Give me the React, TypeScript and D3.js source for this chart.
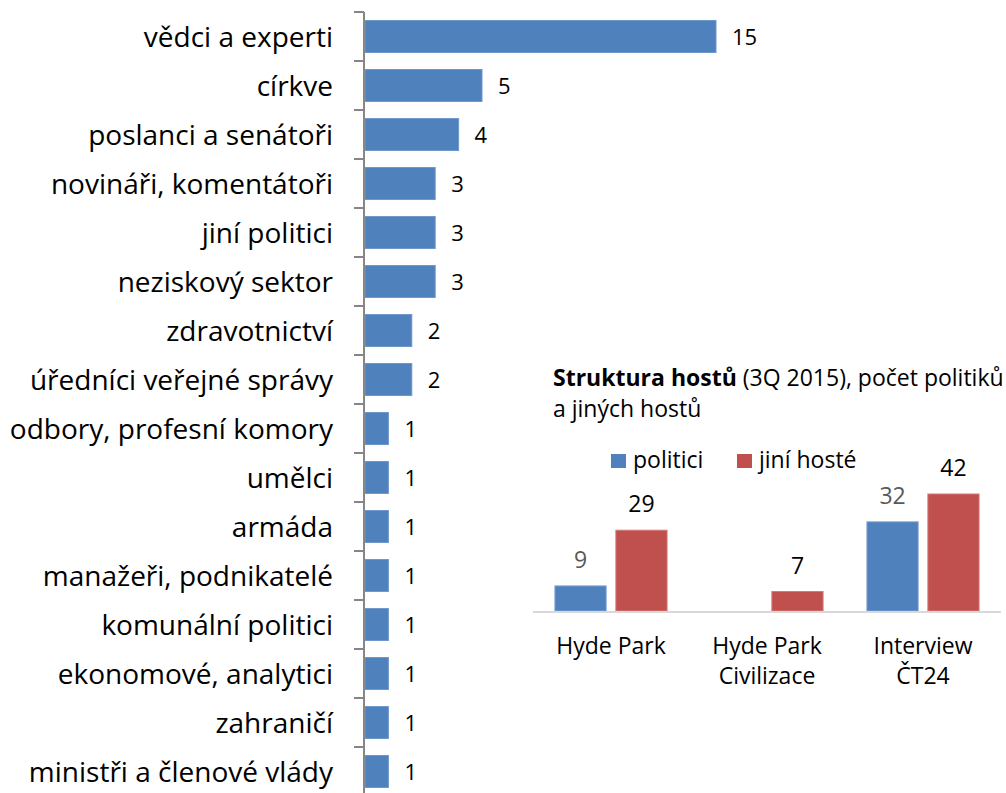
import React from "react";
import * as d3 from "d3";

const categories = [
  "vědci a experti",
  "církve",
  "poslanci a senátoři",
  "novináři, komentátoři",
  "jiní politici",
  "neziskový sektor",
  "zdravotnictví",
  "úředníci veřejné správy",
  "odbory, profesní komory",
  "umělci",
  "armáda",
  "manažeři, podnikatelé",
  "komunální politici",
  "ekonomové, analytici",
  "zahraničí",
  "ministři a členové vlády",
];
const counts = [15, 5, 4, 3, 3, 3, 2, 2, 1, 1, 1, 1, 1, 1, 1, 1];

const shows = [["Hyde Park"], ["Hyde Park", "Civilizace"], ["Interview", "ČT24"]];
const showKeys = ["Hyde Park", "Hyde Park Civilizace", "Interview ČT24"];
const seriesNames = ["politici", "jiní hosté"];
const politici = [9, 0, 32];
const jiniHoste = [29, 7, 42];

const BLUE = "#4F81BD";
const RED = "#C0504D";
const FONT = "'Open Sans', sans-serif";

export default function App() {
  // main chart
  const y = d3
    .scaleBand<string>()
    .domain(categories)
    .range([12, 12 + 49 * categories.length])
    .paddingInner(0.347)
    .paddingOuter(0.1735);
  const x = d3.scaleLinear().domain([0, 15]).range([365, 716]);
  const axisX = 364;
  const step = y.step();
  const top = 12;

  // inset chart
  const gx = d3.scaleBand<string>().domain(showKeys).range([533, 1001]).paddingInner(0).paddingOuter(0);
  const inner = d3.scaleBand<string>().domain(seriesNames).range([0, gx.bandwidth()]).paddingInner(0.16).paddingOuter(0.36);
  const gy = d3.scaleLinear().domain([0, 42]).range([611, 494]);
  const seriesData = [politici, jiniHoste];
  const seriesColors = [BLUE, RED];
  const labelColors = ["#595959", "#000000"];

  return (
    <svg
      width={1006}
      height={793}
      style={{ position: "absolute", left: 0, top: 0, background: "#fff" }}
      fontFamily={FONT}
    >
      {/* main bars */}
      {categories.map((c, i) => (
        <g key={c}>
          <rect
            x={x(0)}
            y={y(c)!}
            width={x(counts[i]) - x(0)}
            height={y.bandwidth()}
            fill={BLUE}
            stroke="#6f98cc"
            strokeWidth={1}
          />
          <text x={x(counts[i]) + 16} y={y(c)! + y.bandwidth() / 2 + 8} fontSize={22} fill="#000">
            {counts[i]}
          </text>
          <text
            x={333}
            y={y(c)! + y.bandwidth() / 2 + 10}
            fontSize={28}
            textAnchor="end"
            fill="#000"
          >
            {c}
          </text>
        </g>
      ))}
      {/* axis */}
      <line x1={axisX} x2={axisX} y1={top} y2={top + step * categories.length} stroke="#868686" strokeWidth={2} />
      {d3.range(categories.length + 1).map((k) => (
        <line
          key={k}
          x1={axisX - 10}
          x2={axisX}
          y1={top + step * k}
          y2={top + step * k}
          stroke="#868686"
          strokeWidth={2}
        />
      ))}

      {/* inset title */}
      <text x={553} y={386} fontSize={23} fill="#000">
        <tspan fontWeight="bold">Struktura hostů</tspan>
        <tspan> (3Q 2015), počet politiků</tspan>
      </text>
      <text x={553} y={417} fontSize={23} fill="#000">
        a jiných hostů
      </text>

      {/* legend */}
      {seriesNames.map((s, i) => {
        const lx = [611, 737][i];
        return (
          <g key={s}>
            <rect x={lx} y={454} width={15} height={14} fill={seriesColors[i]} />
            <text x={lx + 22} y={468} fontSize={23} fill="#000">
              {s}
            </text>
          </g>
        );
      })}

      {/* inset bars */}
      {showKeys.map((k, gi) => (
        <g key={k} transform={`translate(${gx(k)},0)`}>
          {seriesNames.map((s, si) => {
            const v = seriesData[si][gi];
            if (!v) return null;
            const bx = inner(s)!;
            return (
              <g key={s}>
                <rect
                  x={bx}
                  y={gy(v)}
                  width={inner.bandwidth()}
                  height={gy(0) - gy(v)}
                  fill={seriesColors[si]}
                  stroke={si === 0 ? "#7aa0d0" : "#d27b78"}
                  strokeWidth={1}
                />
                <text
                  x={bx + inner.bandwidth() / 2}
                  y={gy(v) - 18}
                  fontSize={23}
                  textAnchor="middle"
                  fill={labelColors[si]}
                >
                  {v}
                </text>
              </g>
            );
          })}
          {shows[gi].map((line, li) => (
            <text
              key={li}
              x={gx.bandwidth() / 2}
              y={654 + li * 30}
              fontSize={23}
              textAnchor="middle"
              fill="#000"
            >
              {line}
            </text>
          ))}
        </g>
      ))}
      <line x1={533} x2={1001} y1={gy(0) + 1} y2={gy(0) + 1} stroke="#d9d9d9" strokeWidth={2} />
    </svg>
  );
}
